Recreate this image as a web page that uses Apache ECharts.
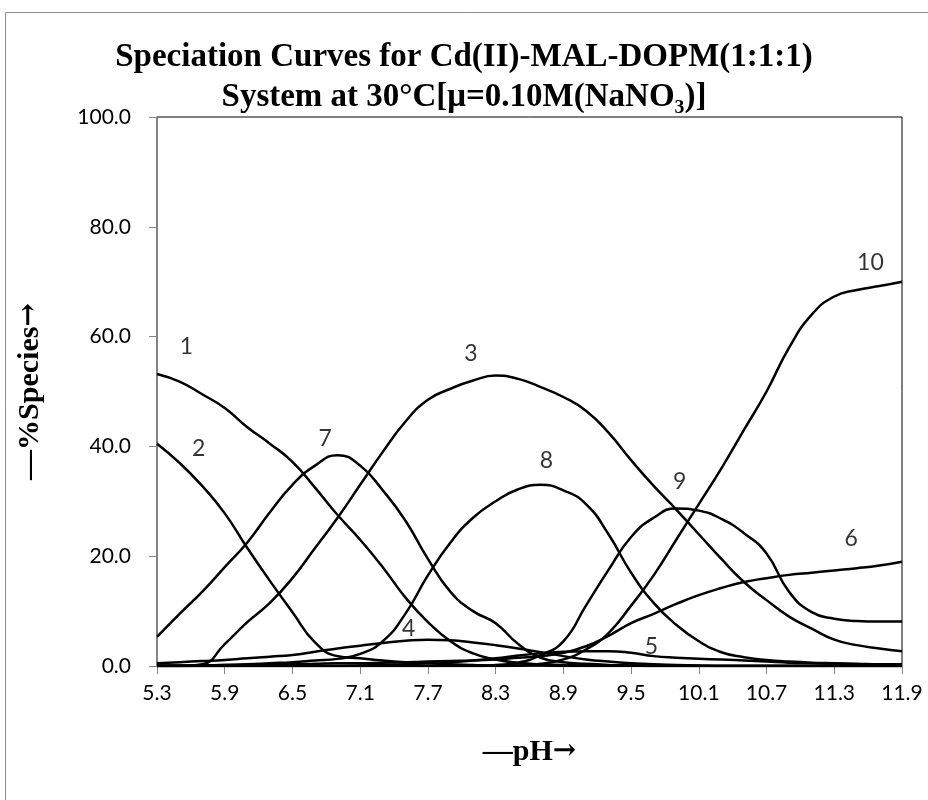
<!DOCTYPE html>
<html>
<head>
<meta charset="utf-8">
<title>Speciation Curves Cd(II)-MAL-DOPM</title>
<script src="https://cdn.jsdelivr.net/npm/echarts@6/dist/echarts.min.js"></script>
<style>
  html, body { margin: 0; padding: 0; background: #fff; }
  #chart { width: 928px; height: 800px; }
</style>
</head>
<body>
<div id="chart"></div>
<script>
// pH values (0.2 step) and % species of each curve
const ph = [5.3, 5.5, 5.7, 5.9, 6.1, 6.3, 6.5, 6.7, 6.9, 7.1, 7.3, 7.5, 7.7, 7.9, 8.1, 8.3, 8.5,
  8.7, 8.9, 9.1, 9.3, 9.5, 9.7, 9.9, 10.1, 10.3, 10.5, 10.7, 10.9, 11.1, 11.3, 11.5, 11.7, 11.9];

const s1 = [53.2, 51.8, 49.5, 47.0, 43.5, 40.5, 37.2, 32.5, 27.5, 23.0, 18.0, 12.5, 8.0, 4.5, 2.3, 1.2, 0.6,
  0.3, 0.2, 0.1, 0.1, 0.1, 0, 0, 0, 0, 0, 0, 0, 0, 0, 0, 0, 0];
const s2 = [40.5, 37.0, 32.8, 27.8, 21.5, 15.5, 9.8, 4.3, 1.8, 1.4, 1.0, 0.7, 0.5, 0.3, 0.2, 0.1, 0.1,
  0.1, 0, 0, 0, 0, 0, 0, 0, 0, 0, 0, 0, 0, 0, 0, 0, 0];
const s3 = [0, 0, 0.3, 4.0, 8.0, 11.5, 16.0, 21.5, 27.0, 33.0, 39.0, 44.5, 48.5, 50.5, 52.0, 52.9, 52.3,
  50.8, 49.0, 46.5, 42.5, 37.5, 32.8, 28.5, 24.0, 19.5, 15.3, 12.0, 9.0, 6.8, 4.8, 3.8, 3.2, 2.7];
const s4 = [0.5, 0.7, 0.9, 1.1, 1.4, 1.7, 2.0, 2.6, 3.2, 3.7, 4.2, 4.6, 4.8, 4.7, 4.3, 3.8, 3.2,
  2.5, 1.8, 1.2, 0.8, 0.5, 0.3, 0.2, 0.1, 0, 0, 0, 0, 0, 0, 0, 0, 0];
const s5 = [0, 0, 0, 0, 0, 0, 0, 0, 0, 0.1, 0.2, 0.3, 0.5, 0.7, 1.0, 1.4, 1.9,
  2.3, 2.6, 2.7, 2.7, 2.4, 1.8, 1.5, 1.3, 1.2, 1.0, 0.8, 0.6, 0.5, 0.4, 0.3, 0.3, 0.2];
const s6 = [0.1, 0.1, 0.1, 0.2, 0.2, 0.3, 0.3, 0.4, 0.5, 0.5, 0.6, 0.7, 0.8, 0.9, 1.0, 1.2, 1.5,
  1.8, 2.4, 3.6, 5.5, 7.8, 9.5, 11.3, 12.9, 14.2, 15.3, 16.0, 16.6, 17.0, 17.4, 17.8, 18.3, 19.0];
const s7 = [5.3, 9.5, 13.5, 18.0, 22.5, 28.0, 33.0, 36.5, 38.4, 36.5, 32.0, 26.5, 19.5, 13.5, 10.0, 7.8, 4.0,
  1.5, 0.7, 0.4, 0.2, 0.1, 0, 0, 0, 0, 0, 0, 0, 0, 0, 0, 0, 0];
const s8 = [0, 0, 0.1, 0.2, 0.3, 0.5, 0.7, 1.0, 1.3, 2.2, 4.5, 9.5, 16.5, 22.5, 27.0, 30.0, 32.2,
  33.0, 32.0, 29.5, 24.0, 17.0, 11.5, 7.5, 4.5, 2.5, 1.6, 1.1, 0.8, 0.6, 0.5, 0.4, 0.3, 0.3];
const s9 = [0, 0, 0, 0, 0, 0, 0, 0, 0, 0, 0, 0, 0, 0, 0, 0.2, 0.6,
  2.0, 4.5, 11.0, 17.5, 23.5, 27.0, 28.7, 28.3, 26.8, 24.2, 20.5, 13.5, 9.8, 8.6, 8.2, 8.1, 8.1];
const s10 = [0, 0, 0, 0, 0, 0, 0, 0, 0, 0, 0, 0, 0, 0, 0, 0, 0.1,
  0.4, 1.2, 3.0, 6.0, 11.0, 16.5, 23.0, 29.5, 36.0, 43.0, 50.0, 58.0, 64.0, 67.3, 68.5, 69.2, 70.0];

const xTicks = ['5.3', '5.9', '6.5', '7.1', '7.7', '8.3', '8.9', '9.5', '10.1', '10.7', '11.3', '11.9'];

// curve number labels, placed in data coordinates
const labelText = ['1', '2', '3', '4', '5', '6', '7', '8', '9', '10'];
const labelPH = [5.56, 5.67, 8.08, 7.53, 9.68, 11.45, 6.79, 8.75, 9.93, 11.62];
const labelPct = [58.1, 39.6, 56.9, 6.9, 3.5, 23.2, 41.4, 37.5, 33.6, 73.5];

const allSeries = [s1, s2, s3, s4, s5, s6, s7, s8, s9, s10];

const chart = echarts.init(document.getElementById('chart'));

const lines = allSeries.map((s, i) => ({
  name: 'Species ' + (i + 1),
  type: 'line',
  data: s.map((v, k) => [ph[k], v]),
  smooth: true,
  symbol: 'none',
  showSymbol: false,
  lineStyle: { color: '#000', width: 2.5 },
  z: 3
}));

lines.push({
  type: 'scatter',
  silent: true,
  symbolSize: 0,
  itemStyle: { color: '#000' },
  data: labelText.map((t, i) => ({ name: t, value: [labelPH[i], labelPct[i]] })),
  label: {
    show: true,
    position: 'inside',
    formatter: '{b}',
    fontFamily: 'Lato',
    fontSize: 23,
    color: '#000',
    textBorderWidth: 0
  },
  z: 4
});

const tickVals = xTicks.map(Number);

const axisNameStyle = {
  fontFamily: 'Liberation Serif',
  fontWeight: 'bold',
  fontSize: 30,
  color: '#000',
  rich: {
    arr: { fontFamily: 'DejaVu Serif', fontWeight: 'bold', fontSize: 28, color: '#000' }
  }
};

chart.setOption({
  animation: false,
  title: {
    text: 'Speciation Curves for Cd(II)-MAL-DOPM(1:1:1)\nSystem at 30°C[μ=0.10M(NaNO₃)]',
    left: 'center',
    top: 32,
    textStyle: {
      fontFamily: 'Liberation Serif',
      fontWeight: 'bold',
      fontSize: 33,
      lineHeight: 40,
      color: '#000'
    }
  },
  graphic: [{
    type: 'rect',
    shape: { x: 5.5, y: 12.5, width: 940, height: 800 },
    style: { fill: 'none', stroke: '#8c8c8c', lineWidth: 1 },
    silent: true
  }],
  grid: {
    left: 157,
    top: 117,
    width: 745,
    height: 549,
    outerBoundsMode: 'none',
    show: true,
    borderColor: '#000',
    borderWidth: 1
  },
  xAxis: {
    type: 'value',
    min: 5.3,
    max: 11.9,
    name: '—pH{arr|→}',
    nameLocation: 'middle',
    nameGap: 71,
    nameTextStyle: axisNameStyle,
    axisLine: { show: true, lineStyle: { color: '#868686', width: 1.5 } },
    axisTick: { show: true, length: 8, customValues: tickVals, lineStyle: { color: '#868686' } },
    axisLabel: {
      customValues: tickVals,
      formatter: (v) => v.toFixed(1),
      margin: 17,
      fontFamily: 'Lato',
      fontSize: 21,
      color: '#000'
    },
    splitLine: { show: false }
  },
  yAxis: {
    type: 'value',
    min: 0,
    max: 100,
    interval: 20,
    name: '—%Species{arr|→}',
    nameLocation: 'middle',
    nameGap: 112,
    nameTextStyle: axisNameStyle,
    axisLine: { show: true, lineStyle: { color: '#868686', width: 1.5 } },
    axisTick: { show: true, length: 8, lineStyle: { color: '#868686' } },
    axisLabel: {
      formatter: (v) => v.toFixed(1),
      margin: 26,
      fontFamily: 'Lato',
      fontSize: 21,
      color: '#000'
    },
    splitLine: { show: false }
  },
  series: lines
});
</script>
</body>
</html>
